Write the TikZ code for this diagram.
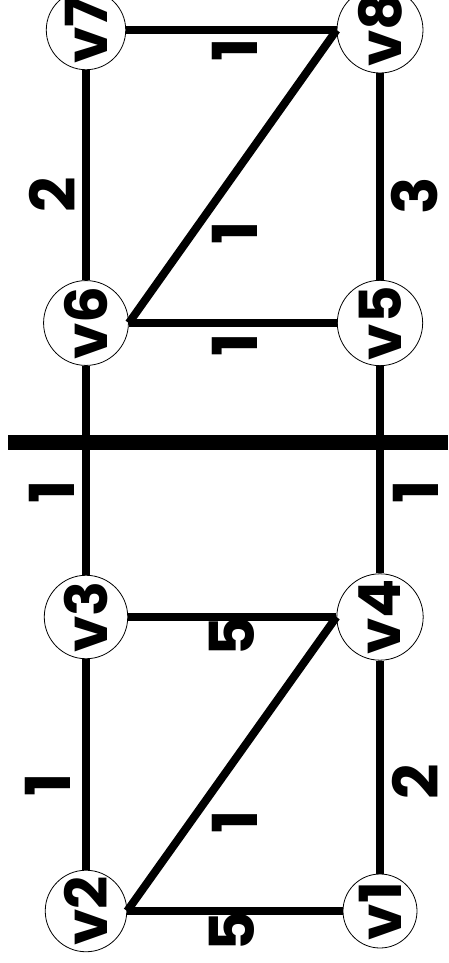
\documentclass[tikz,border=0pt]{standalone}
\usepackage{fontspec}
\usepackage{graphicx}
\setmainfont{Poppins}
\newcommand{\up}[1]{\rotatebox{90}{#1}}
\tikzset{vtx/.style={circle,draw,line width=0.8pt,minimum size=74pt,inner sep=0pt,fill=white,
    font=\fontsize{58}{58}\selectfont\bfseries},
  wt/.style={font=\fontsize{62}{62}\selectfont\bfseries,rotate=90,inner sep=0pt},
  edge/.style={line width=8pt}}
\begin{document}
\begin{tikzpicture}[x=1pt,y=-1pt]
\useasboundingbox (0,0) rectangle (448,963);
\draw[line width=15pt] (8,442)--(448,442);
\node[vtx] (v1) at (380,911){\up{v1}}; \node[vtx] (v2) at (86,911){\up{v2}};
\node[vtx] (v3) at (86,617){\up{v3}}; \node[vtx] (v4) at (380,617){\up{v4}};
\node[vtx] (v5) at (380,323){\up{v5}}; \node[vtx] (v6) at (86,323){\up{v6}};
\node[vtx] (v7) at (86,30){\up{v7}}; \node[vtx] (v8) at (380,30){\up{v8}};
\draw[edge] (v2.east)--(v1.west); \draw[edge] (v2.east)--(v4.west); \draw[edge] (v3.east)--(v4.west);
\draw[edge] (v2)--(v3); \draw[edge] (v1)--(v4); \draw[edge] (v3)--(v6); \draw[edge] (v4)--(v5);
\draw[edge] (v6.east)--(v5.west); \draw[edge] (v6.east)--(v8.west); \draw[edge] (v7.east)--(v8.west);
\draw[edge] (v6)--(v7); \draw[edge] (v5)--(v8);
\node[wt] (w12) at (232,931){5}; \node[wt] (w23) at (48,785){1}; \node[wt] (w24) at (235,822){1};
\node[wt] (w34) at (232,636){5}; \node[wt] (w14) at (415,782){2};
\node[wt] (w36) at (52,492){1}; \node[wt] (w45) at (416,492){1};
\node[wt] (w56) at (235,345){1}; \node[wt] (w68) at (235,233){1};
\node[wt] (w67) at (52,195){2}; \node[wt] (w58) at (415,196){3}; \node[wt] (w78) at (235,50){1};
\end{tikzpicture}
\end{document}
